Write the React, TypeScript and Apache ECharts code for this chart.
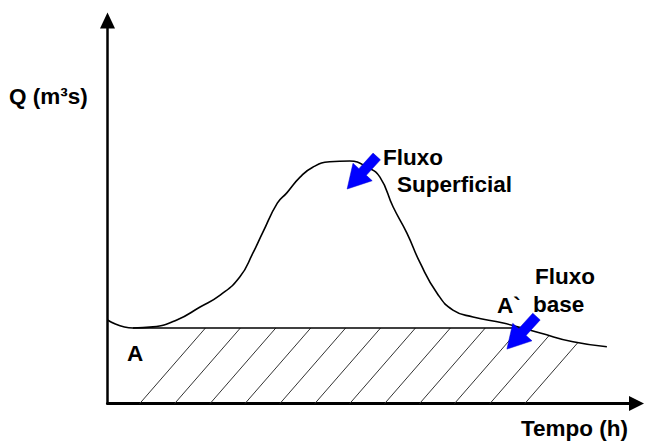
import React, { useEffect, useRef } from "react";
import * as echarts from "echarts";

// Hydrograph curve (time, discharge)
const curveX = [0, 4.8, 8.6, 13.1, 17.5, 21.3, 25.0, 27.5, 29.4, 32.1, 33.9, 36.4, 38.8, 42.0, 45.8, 49.1, 51.5, 54.0, 56.6, 59.1, 62.3, 65.3, 69.1, 74.8, 81.8, 88.0, 94.4];
const curveY = [21.8, 19.7, 20.0, 21.8, 25.2, 28.3, 33.0, 39.3, 44.8, 52.3, 55.0, 59.1, 61.7, 63.1, 63.3, 61.7, 59.1, 51.3, 44.5, 36.7, 28.8, 24.4, 22.6, 21.0, 18.4, 16.1, 14.8];

// Base flow separation line
const baseValue = 19.7;
const baseStartX = 4.8;

// Hatch lines: positions where they meet the time axis
const hatchBottoms = [6.1, 12.7, 19.4, 26.0, 32.6, 39.2, 45.8, 52.4, 59.0, 65.6, 72.3, 78.9];

// Arrow tips (time, discharge)
const arrowTips = [
  [45.3, 56.0],
  [75.5, 14.2],
];

// Labels
const yLabel = "Q (m³s)";
const xLabel = "Tempo (h)";
const surfaceLabel = ["Fluxo", "Superficial"];
const baseLabel = ["Fluxo", "base"];

function interp(x: number): number {
  if (x < curveX[0] || x > curveX[curveX.length - 1]) return NaN;
  for (let i = 0; i < curveX.length - 1; i++) {
    if (x >= curveX[i] && x <= curveX[i + 1]) {
      const t = (x - curveX[i]) / (curveX[i + 1] - curveX[i]);
      return curveY[i] + t * (curveY[i + 1] - curveY[i]);
    }
  }
  return NaN;
}

function baseEndX(): number {
  for (let i = curveX.length - 2; i >= 0; i--) {
    if (curveY[i] >= baseValue && curveY[i + 1] < baseValue) {
      const t = (curveY[i] - baseValue) / (curveY[i] - curveY[i + 1]);
      return curveX[i] + t * (curveX[i + 1] - curveX[i]);
    }
  }
  return curveX[curveX.length - 1];
}

const FONT = "bold 22.5px 'Liberation Sans', Arial, sans-serif";

export default function App() {
  const ref = useRef<HTMLDivElement>(null);
  useEffect(() => {
    if (!ref.current) return;
    const chart = echarts.init(ref.current, undefined, { renderer: "svg" });
    const endX = baseEndX();

    const txt = (text: string, x: number, y: number) => ({
      type: "text",
      style: { text, x, y, font: FONT, fill: "#000", align: "left", verticalAlign: "middle" },
      z: 20,
    });

    const option: any = {
      animation: false,
      backgroundColor: "#fff",
      grid: { left: 107.5, right: 8.5, top: 20.5, bottom: 39.5, outerBoundsMode: "none" },
      xAxis: {
        type: "value",
        min: 0,
        max: 100,
        axisLine: { show: true, symbol: ["none", "triangle"], symbolSize: [15, 15], lineStyle: { color: "#000", width: 3 } },
        axisTick: { show: false },
        axisLabel: { show: false },
        splitLine: { show: false },
      },
      yAxis: {
        type: "value",
        min: 0,
        max: 100,
        axisLine: { show: true, symbol: ["none", "triangle"], symbolSize: [15, 16], lineStyle: { color: "#000", width: 2.5 } },
        axisTick: { show: false },
        axisLabel: { show: false },
        splitLine: { show: false },
      },
      series: [
        {
          type: "custom",
          name: "hatch",
          coordinateSystem: "cartesian2d",
          data: hatchBottoms.map((x) => [x, 0]),
          renderItem: (params: any, api: any) => {
            const x0 = api.value(0);
            const p0 = api.coord([x0, 0]);
            const o = api.coord([0, 0]);
            const sx = api.coord([1, 0])[0] - o[0];
            const sy = o[1] - api.coord([0, 1])[1];
            const k = 0.87;
            let t = 0;
            let px = p0[0];
            let py = p0[1];
            for (t = 0; t < 600; t += 0.25) {
              px = p0[0] + t * k;
              py = p0[1] - t;
              const dx = (px - o[0]) / sx;
              const dy = (o[1] - py) / sy;
              const c = interp(dx);
              if (isNaN(c)) break;
              const b = Math.min(c, baseValue);
              if (dy >= b) break;
            }
            return {
              type: "line",
              shape: { x1: p0[0], y1: p0[1], x2: px, y2: py },
              style: { stroke: "#333", lineWidth: 1 },
            };
          },
          z: 2,
        },
        {
          type: "line",
          name: "curve",
          data: curveX.map((x, i) => [x, curveY[i]]),
          smooth: 0.5,
          showSymbol: false,
          lineStyle: { color: "#000", width: 1.6 },
          z: 3,
        },
        {
          type: "line",
          name: "base",
          data: [
            [baseStartX, baseValue],
            [endX, baseValue],
          ],
          showSymbol: false,
          lineStyle: { color: "#000", width: 1.5 },
          z: 3,
        },
        {
          type: "custom",
          name: "arrows",
          coordinateSystem: "cartesian2d",
          data: arrowTips,
          renderItem: (params: any, api: any) => {
            const tip = api.coord([api.value(0), api.value(1)]);
            let dx = -30, dy = 33;
            const len = Math.sqrt(dx * dx + dy * dy);
            dx /= len; dy /= len;
            const nx = -dy, ny = dx;
            const L = 44, hl = 23, hw = 13, sw = 5;
            const pt = (a: number, b: number) => [tip[0] - dx * a + nx * b, tip[1] - dy * a + ny * b];
            return {
              type: "polygon",
              shape: {
                points: [pt(0, 0), pt(hl, hw), pt(hl, sw), pt(L, sw), pt(L, -sw), pt(hl, -sw), pt(hl, -hw)],
              },
              style: { fill: "#0000ff", stroke: "#0000cc", lineWidth: 0.5 },
            };
          },
          z: 5,
        },
      ],
      graphic: [
        txt(yLabel, 9, 96),
        txt(surfaceLabel[0], 383, 157),
        txt(surfaceLabel[1], 397, 184),
        txt(baseLabel[0], 535, 276),
        txt(baseLabel[1], 533, 304),
        txt("A`", 497, 305),
        txt("A", 127, 353),
        txt(xLabel, 521, 428),
      ],
    };
    chart.setOption(option);
    return () => chart.dispose();
  }, []);
  return (
    <div
      ref={ref}
      style={{ position: "fixed", left: 0, top: 0, width: 645, height: 443, background: "#fff" }}
    />
  );
}
